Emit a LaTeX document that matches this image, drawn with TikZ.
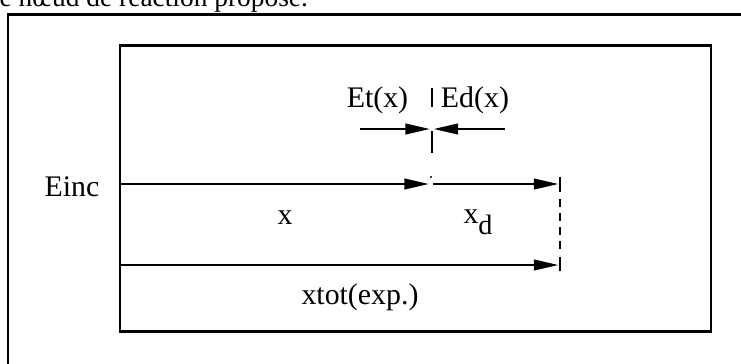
\documentclass[tikz,border=0pt]{standalone}
\usepackage{fontspec}
\setmainfont{Liberation Serif}
\usetikzlibrary{arrows.meta, calc}

\begin{document}
\begin{tikzpicture}[
	fleche/.style={line width=0.7pt, -{Triangle[length=7pt,width=3pt]}},
	trait/.style={line width=0.7pt},
	cadre/.style={line width=0.85pt},
	etiq/.style={inner sep=0pt, font=\fontsize{8.5}{10}\selectfont}
]
	\useasboundingbox (0,0) rectangle (7.41,-3.63);
	% 页首残字
	\node[inner sep=0pt, anchor=base west, font=\fontsize{7.8}{9}\selectfont] (titre) at (-0.01,-0.06) {e nœud de réaction proposé.};
	
	% 外框与内框
	\draw[cadre] (0.08,-3.8) -- (0.08,-0.14) -- (7.6,-0.14);
	\draw[cadre] (1.20,-0.45) rectangle (7.11,-3.31);
	
	% 各点
	\coordinate (gauche) at (1.20,-1.84);
	\coordinate (pointe) at (4.29,-1.84);
	\coordinate (depart) at (4.33,-1.84);
	\coordinate (fin) at (5.585,-1.84);
	\coordinate (gaucheb) at (1.20,-2.65);
	\coordinate (finb) at (5.585,-2.65);
	\coordinate (ta) at (3.60,-1.29);
	\coordinate (tb) at (4.30,-1.29);
	\coordinate (da) at (5.05,-1.29);
	\coordinate (db) at (4.335,-1.29);
	
	% 标签
	\node[etiq] (einc) at (0.72,-1.87) {Einc};
	\node[etiq] (etx) at (3.775,-1.00) {Et(x)};
	\node[etiq] (edx) at (4.75,-1.00) {Ed(x)};
	\node[etiq] (xlab) at (2.85,-2.18) {x};
	\node[etiq] (xdlab) at (4.78,-2.22) {x\raisebox{-0.8ex}{\fontsize{8}{9}\selectfont d}};
	\node[etiq] (xtot) at (3.60,-2.97) {xtot(exp.)};
	
	% 绘制箭头
	\draw[fleche] (gauche) -- (pointe);
	\draw[fleche] (depart) -- (fin);
	\draw[fleche] (gaucheb) -- (finb);
	\draw[fleche] (ta) -- (tb);
	\draw[fleche] (da) -- (db);
	\fill (4.31,-1.77) circle (0.012);
	
	% 竖线与虚线
	\draw[trait] (4.32,-0.88) -- (4.32,-1.07);
	\draw[trait] (4.32,-1.31) -- (4.32,-1.53);
	\draw[trait] (5.60,-1.77) -- (5.60,-1.92);
	\draw[trait, dash pattern=on 0.08cm off 0.06cm] (5.60,-1.99) -- (5.60,-2.55);
	\draw[trait] (5.60,-2.57) -- (5.60,-2.71);
\end{tikzpicture}
\end{document}
